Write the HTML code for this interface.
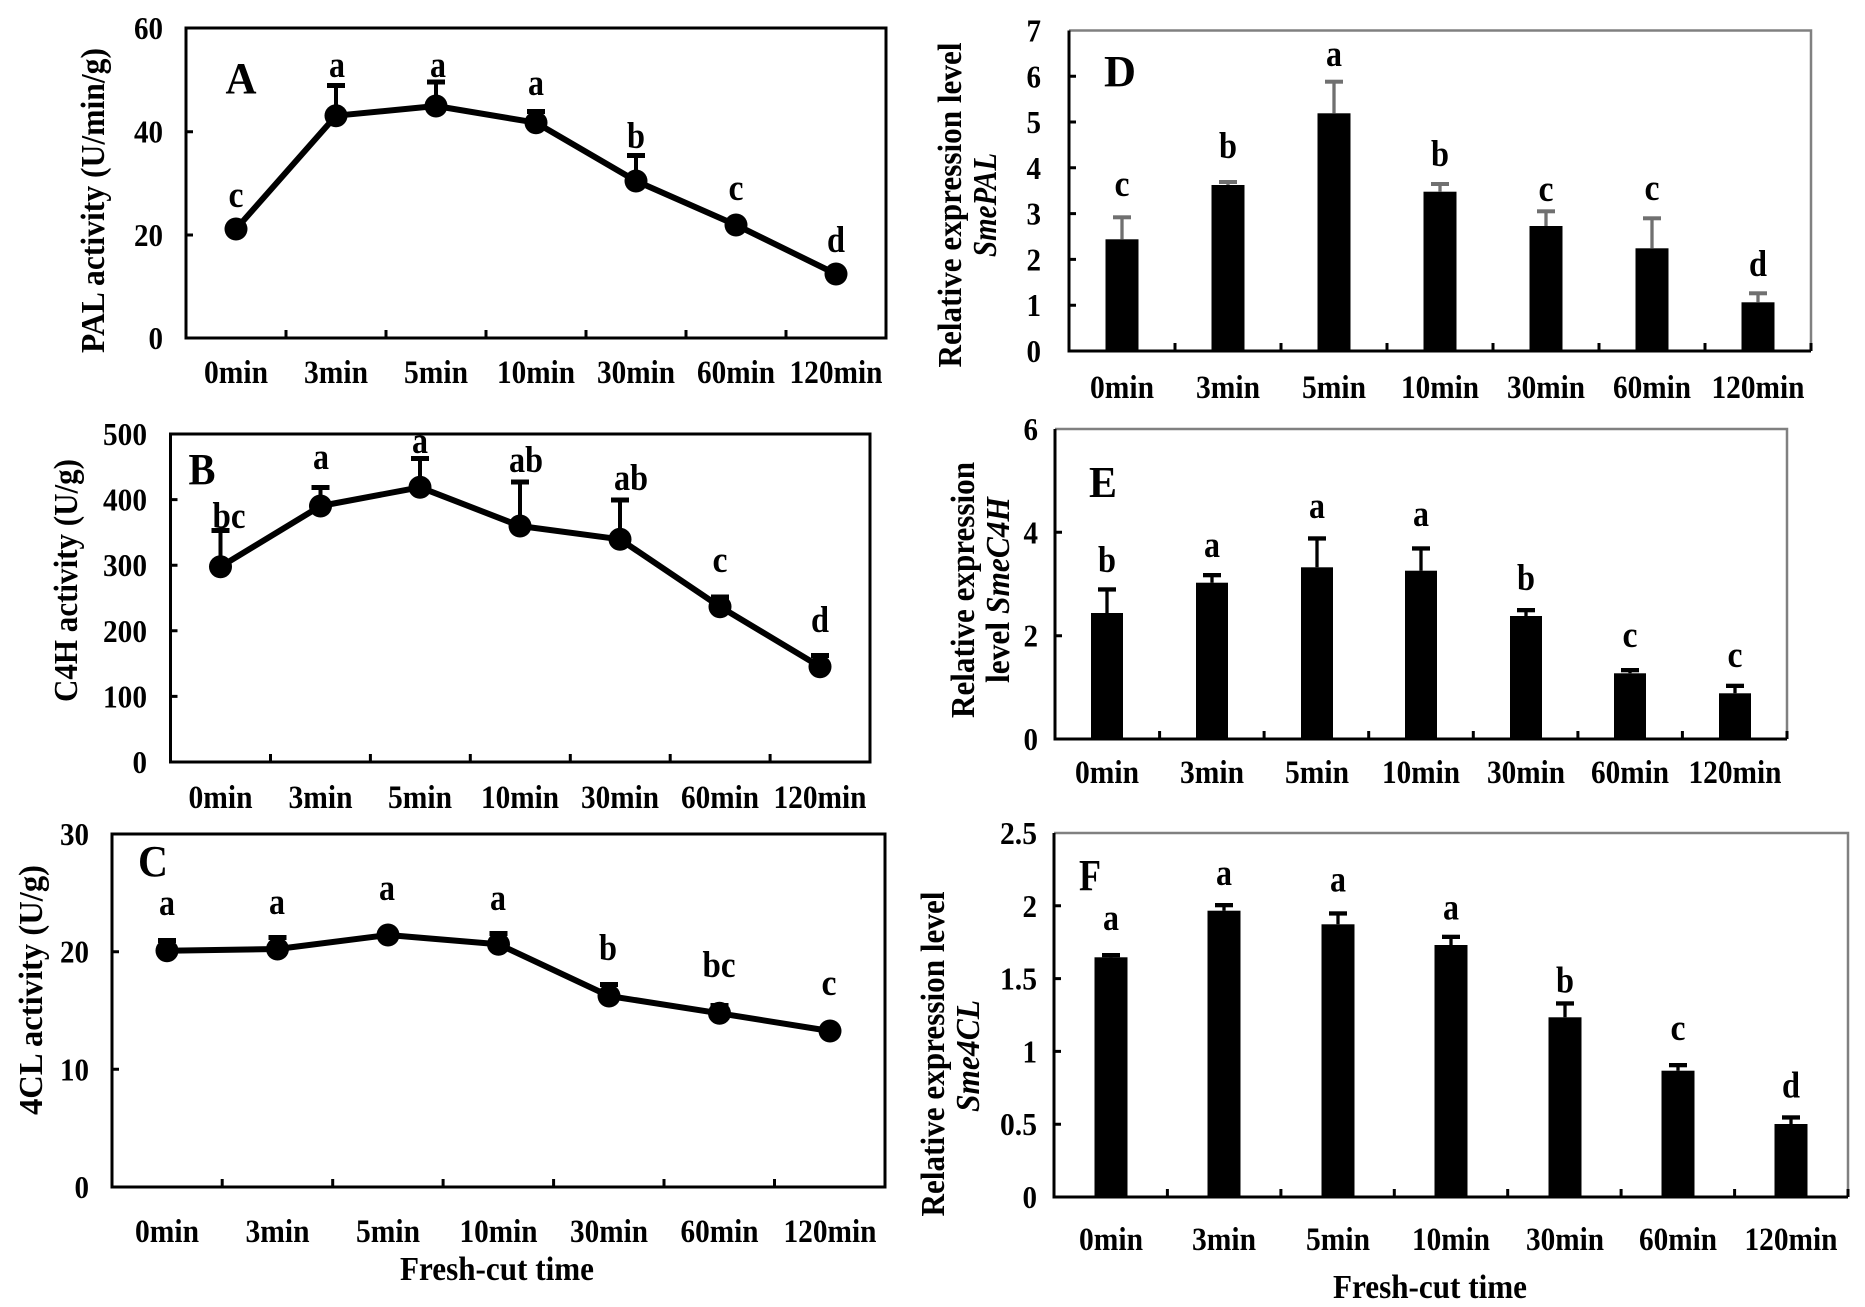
<!DOCTYPE html>
<html><head><meta charset="utf-8"><style>
html,body{margin:0;padding:0;background:#fff;}
svg{display:block;}
text{font-family:"Liberation Serif","Times New Roman",serif;font-weight:bold;fill:#000;}
.tk{font-size:32px;}
.xl{font-size:33px;}
.lt{font-size:37px;}
.pl{font-size:44px;}
.al{font-size:34px;}
</style></head><body>
<svg width="1865" height="1307" viewBox="0 0 1865 1307" xmlns="http://www.w3.org/2000/svg" lengthAdjust="spacingAndGlyphs">
<rect width="1865" height="1307" fill="#fff"/>

<!-- ===== Panel A ===== -->
<rect x="186" y="28" width="700" height="310" fill="none" stroke="#000" stroke-width="3"/>
<path d="M286 338V330M386 338V330M486 338V330M586 338V330M686 338V330M786 338V330M186 235H193M186 131.7H193" stroke="#000" stroke-width="3"/>
<g text-anchor="end"><text class="tk" x="163" y="349" textLength="14.5" lengthAdjust="spacingAndGlyphs">0</text><text class="tk" x="163" y="246" textLength="29" lengthAdjust="spacingAndGlyphs">20</text><text class="tk" x="163" y="142.7" textLength="29" lengthAdjust="spacingAndGlyphs">40</text><text class="tk" x="163" y="39" textLength="29" lengthAdjust="spacingAndGlyphs">60</text></g>
<g stroke="#000" stroke-width="4"><path d="M336 115.7V86M436 106V82.5M536 122.7V112M636 181V156"/></g>
<g fill="#000"><rect x="327" y="83" width="18" height="5"/><rect x="427" y="79.5" width="18" height="5"/><rect x="527" y="109" width="18" height="5"/><rect x="627" y="153" width="18" height="5"/></g>
<polyline points="236,229 336,115.7 436,106 536,122.7 636,181 736,225 836,274" fill="none" stroke="#000" stroke-width="6" stroke-linejoin="round"/>
<g fill="#000"><circle cx="236" cy="229" r="11.5"/><circle cx="336" cy="115.7" r="11.5"/><circle cx="436" cy="106" r="11.5"/><circle cx="536" cy="122.7" r="11.5"/><circle cx="636" cy="181" r="11.5"/><circle cx="736" cy="225" r="11.5"/><circle cx="836" cy="274" r="11.5"/></g>
<g text-anchor="middle"><text class="lt" x="236" y="207" textLength="15" lengthAdjust="spacingAndGlyphs">c</text><text class="lt" x="337" y="77" textLength="16" lengthAdjust="spacingAndGlyphs">a</text><text class="lt" x="438" y="77" textLength="16" lengthAdjust="spacingAndGlyphs">a</text><text class="lt" x="536" y="95" textLength="16" lengthAdjust="spacingAndGlyphs">a</text><text class="lt" x="636" y="148" textLength="18" lengthAdjust="spacingAndGlyphs">b</text><text class="lt" x="736" y="200" textLength="15" lengthAdjust="spacingAndGlyphs">c</text><text class="lt" x="836" y="252" textLength="18" lengthAdjust="spacingAndGlyphs">d</text></g>
<text class="pl" x="241" y="93" text-anchor="middle" textLength="31" lengthAdjust="spacingAndGlyphs">A</text>
<g text-anchor="middle"><text class="xl" x="236" y="383" textLength="64" lengthAdjust="spacingAndGlyphs">0min</text><text class="xl" x="336" y="383" textLength="64" lengthAdjust="spacingAndGlyphs">3min</text><text class="xl" x="436" y="383" textLength="64" lengthAdjust="spacingAndGlyphs">5min</text><text class="xl" x="536" y="383" textLength="78" lengthAdjust="spacingAndGlyphs">10min</text><text class="xl" x="636" y="383" textLength="78" lengthAdjust="spacingAndGlyphs">30min</text><text class="xl" x="736" y="383" textLength="78" lengthAdjust="spacingAndGlyphs">60min</text><text class="xl" x="836" y="383" textLength="93" lengthAdjust="spacingAndGlyphs">120min</text></g>
<text class="al" transform="translate(104,200.5) rotate(-90)" text-anchor="middle" textLength="305" lengthAdjust="spacingAndGlyphs">PAL activity (U/min/g)</text>

<!-- ===== Panel B ===== -->
<rect x="170.5" y="434" width="699.5" height="328" fill="none" stroke="#000" stroke-width="3"/>
<path d="M270.5 762V754M370.4 762V754M470.3 762V754M570.3 762V754M670.2 762V754M770.1 762V754M170.5 696.4H177.5M170.5 630.8H177.5M170.5 565.2H177.5M170.5 499.6H177.5" stroke="#000" stroke-width="3"/>
<g text-anchor="end"><text class="tk" x="147" y="773" textLength="14.5" lengthAdjust="spacingAndGlyphs">0</text><text class="tk" x="147" y="707.4" textLength="44" lengthAdjust="spacingAndGlyphs">100</text><text class="tk" x="147" y="641.8" textLength="44" lengthAdjust="spacingAndGlyphs">200</text><text class="tk" x="147" y="576.2" textLength="44" lengthAdjust="spacingAndGlyphs">300</text><text class="tk" x="147" y="510.6" textLength="44" lengthAdjust="spacingAndGlyphs">400</text><text class="tk" x="147" y="445" textLength="44" lengthAdjust="spacingAndGlyphs">500</text></g>
<g stroke="#000" stroke-width="4"><path d="M220.5 566.7V531M320.5 506V488M420 487.3V459M520 526V483M620 539.3V501M720 606.7V598M820 666.7V656"/></g>
<g fill="#000"><rect x="211.5" y="528" width="18" height="5"/><rect x="311.5" y="485" width="18" height="5"/><rect x="411" y="456" width="18" height="5"/><rect x="511" y="479.5" width="18" height="5"/><rect x="611" y="497.5" width="18" height="5"/><rect x="711" y="594.5" width="18" height="5"/><rect x="811" y="653" width="18" height="5"/></g>
<polyline points="220.5,566.7 320.5,506 420,487.3 520,526 620,539.3 720,606.7 820,666.7" fill="none" stroke="#000" stroke-width="6" stroke-linejoin="round"/>
<g fill="#000"><circle cx="220.5" cy="566.7" r="11.5"/><circle cx="320.5" cy="506" r="11.5"/><circle cx="420" cy="487.3" r="11.5"/><circle cx="520" cy="526" r="11.5"/><circle cx="620" cy="539.3" r="11.5"/><circle cx="720" cy="606.7" r="11.5"/><circle cx="820" cy="666.7" r="11.5"/></g>
<g text-anchor="middle"><text class="lt" x="229" y="528" textLength="33" lengthAdjust="spacingAndGlyphs">bc</text><text class="lt" x="321" y="469" textLength="16" lengthAdjust="spacingAndGlyphs">a</text><text class="lt" x="420" y="453" textLength="16" lengthAdjust="spacingAndGlyphs">a</text><text class="lt" x="526" y="472" textLength="34" lengthAdjust="spacingAndGlyphs">ab</text><text class="lt" x="631" y="490" textLength="34" lengthAdjust="spacingAndGlyphs">ab</text><text class="lt" x="720" y="572" textLength="15" lengthAdjust="spacingAndGlyphs">c</text><text class="lt" x="820" y="632" textLength="18" lengthAdjust="spacingAndGlyphs">d</text></g>
<text class="pl" x="202" y="484" text-anchor="middle" textLength="27" lengthAdjust="spacingAndGlyphs">B</text>
<g text-anchor="middle"><text class="xl" x="220.5" y="808" textLength="64" lengthAdjust="spacingAndGlyphs">0min</text><text class="xl" x="320.5" y="808" textLength="64" lengthAdjust="spacingAndGlyphs">3min</text><text class="xl" x="420" y="808" textLength="64" lengthAdjust="spacingAndGlyphs">5min</text><text class="xl" x="520" y="808" textLength="78" lengthAdjust="spacingAndGlyphs">10min</text><text class="xl" x="620" y="808" textLength="78" lengthAdjust="spacingAndGlyphs">30min</text><text class="xl" x="720" y="808" textLength="78" lengthAdjust="spacingAndGlyphs">60min</text><text class="xl" x="820" y="808" textLength="93" lengthAdjust="spacingAndGlyphs">120min</text></g>
<text class="al" transform="translate(77,580.5) rotate(-90)" text-anchor="middle" textLength="243" lengthAdjust="spacingAndGlyphs">C4H activity (U/g)</text>

<!-- ===== Panel C ===== -->
<rect x="112" y="834" width="773" height="353" fill="none" stroke="#000" stroke-width="3"/>
<path d="M222.2 1187V1179M332.7 1187V1179M443.1 1187V1179M553.6 1187V1179M664 1187V1179M774.5 1187V1179M112 1069.3H119M112 951.7H119" stroke="#000" stroke-width="3"/>
<g text-anchor="end"><text class="tk" x="89" y="1198" textLength="14.5" lengthAdjust="spacingAndGlyphs">0</text><text class="tk" x="89" y="1080.3" textLength="29" lengthAdjust="spacingAndGlyphs">10</text><text class="tk" x="89" y="962.7" textLength="29" lengthAdjust="spacingAndGlyphs">20</text><text class="tk" x="89" y="845" textLength="29" lengthAdjust="spacingAndGlyphs">30</text></g>
<g stroke="#000" stroke-width="4"><path d="M167 950.7V941M277.5 949V938M498.5 944.3V934M609 996V985M719.5 1013.3V1006"/></g>
<g fill="#000"><rect x="158" y="938" width="18" height="5"/><rect x="268.5" y="935" width="18" height="5"/><rect x="489.5" y="931" width="18" height="5"/><rect x="600" y="982" width="18" height="5"/><rect x="710.5" y="1003" width="18" height="5"/></g>
<polyline points="167,950.7 277.5,949 388,935 498.5,944.3 609,996 719.5,1013.3 830,1031" fill="none" stroke="#000" stroke-width="6" stroke-linejoin="round"/>
<g fill="#000"><circle cx="167" cy="950.7" r="11.5"/><circle cx="277.5" cy="949" r="11.5"/><circle cx="388" cy="935" r="11.5"/><circle cx="498.5" cy="944.3" r="11.5"/><circle cx="609" cy="996" r="11.5"/><circle cx="719.5" cy="1013.3" r="11.5"/><circle cx="830" cy="1031" r="11.5"/></g>
<g text-anchor="middle"><text class="lt" x="167" y="915" textLength="16" lengthAdjust="spacingAndGlyphs">a</text><text class="lt" x="277" y="914" textLength="16" lengthAdjust="spacingAndGlyphs">a</text><text class="lt" x="387" y="900" textLength="16" lengthAdjust="spacingAndGlyphs">a</text><text class="lt" x="498" y="910" textLength="16" lengthAdjust="spacingAndGlyphs">a</text><text class="lt" x="608" y="960" textLength="18" lengthAdjust="spacingAndGlyphs">b</text><text class="lt" x="719" y="977" textLength="33" lengthAdjust="spacingAndGlyphs">bc</text><text class="lt" x="829" y="995" textLength="15" lengthAdjust="spacingAndGlyphs">c</text></g>
<text class="pl" x="153" y="876" text-anchor="middle" textLength="30" lengthAdjust="spacingAndGlyphs">C</text>
<g text-anchor="middle"><text class="xl" x="167" y="1242" textLength="64" lengthAdjust="spacingAndGlyphs">0min</text><text class="xl" x="277.5" y="1242" textLength="64" lengthAdjust="spacingAndGlyphs">3min</text><text class="xl" x="388" y="1242" textLength="64" lengthAdjust="spacingAndGlyphs">5min</text><text class="xl" x="498.5" y="1242" textLength="78" lengthAdjust="spacingAndGlyphs">10min</text><text class="xl" x="609" y="1242" textLength="78" lengthAdjust="spacingAndGlyphs">30min</text><text class="xl" x="719.5" y="1242" textLength="78" lengthAdjust="spacingAndGlyphs">60min</text><text class="xl" x="830" y="1242" textLength="93" lengthAdjust="spacingAndGlyphs">120min</text></g>
<text class="al" x="497" y="1280" text-anchor="middle" textLength="194" lengthAdjust="spacingAndGlyphs">Fresh-cut time</text>
<text class="al" transform="translate(42,990) rotate(-90)" text-anchor="middle" textLength="250" lengthAdjust="spacingAndGlyphs">4CL activity (U/g)</text>

<!-- ===== Panel D ===== -->
<path d="M1069 30.5H1811V351" fill="none" stroke="#808080" stroke-width="2.5"/>
<path d="M1069 30.5V351H1811" fill="none" stroke="#000" stroke-width="3"/>
<path d="M1175 351V343M1281 351V343M1387 351V343M1493 351V343M1599 351V343M1705 351V343M1811 351V343M1069 305.2H1076M1069 259.4H1076M1069 213.6H1076M1069 167.8H1076M1069 122H1076M1069 76.3H1076" stroke="#000" stroke-width="3"/>
<g text-anchor="end"><text class="tk" x="1041" y="362" textLength="14.5" lengthAdjust="spacingAndGlyphs">0</text><text class="tk" x="1041" y="316.2" textLength="14.5" lengthAdjust="spacingAndGlyphs">1</text><text class="tk" x="1041" y="270.4" textLength="14.5" lengthAdjust="spacingAndGlyphs">2</text><text class="tk" x="1041" y="224.6" textLength="14.5" lengthAdjust="spacingAndGlyphs">3</text><text class="tk" x="1041" y="178.8" textLength="14.5" lengthAdjust="spacingAndGlyphs">4</text><text class="tk" x="1041" y="133" textLength="14.5" lengthAdjust="spacingAndGlyphs">5</text><text class="tk" x="1041" y="87.3" textLength="14.5" lengthAdjust="spacingAndGlyphs">6</text><text class="tk" x="1041" y="41.5" textLength="14.5" lengthAdjust="spacingAndGlyphs">7</text></g>
<g fill="#000"><rect x="1105.5" y="239.3" width="33" height="111.7"/><rect x="1211.5" y="185" width="33" height="166"/><rect x="1317.5" y="113.3" width="33" height="237.7"/><rect x="1423.5" y="191.7" width="33" height="159.3"/><rect x="1529.5" y="226" width="33" height="125"/><rect x="1635.5" y="248.3" width="33" height="102.7"/><rect x="1741.5" y="302.3" width="33" height="48.7"/></g>
<g stroke="#707070" stroke-width="3.3"><path d="M1122 239.3V218M1228 185V183M1334 113.3V83M1440 191.7V185M1546 226V212M1652 248.3V219M1758 302.3V294"/></g>
<g fill="#707070"><rect x="1113" y="215.3" width="18" height="4"/><rect x="1219" y="180" width="18" height="4"/><rect x="1325" y="79.7" width="18" height="4"/><rect x="1431" y="182" width="18" height="4"/><rect x="1537" y="209.3" width="18" height="4"/><rect x="1643" y="216.3" width="18" height="4"/><rect x="1749" y="291.3" width="18" height="4"/></g>
<g text-anchor="middle"><text class="lt" x="1122" y="196" textLength="15" lengthAdjust="spacingAndGlyphs">c</text><text class="lt" x="1228" y="158" textLength="18" lengthAdjust="spacingAndGlyphs">b</text><text class="lt" x="1334" y="66" textLength="16" lengthAdjust="spacingAndGlyphs">a</text><text class="lt" x="1440" y="166" textLength="18" lengthAdjust="spacingAndGlyphs">b</text><text class="lt" x="1546" y="201" textLength="15" lengthAdjust="spacingAndGlyphs">c</text><text class="lt" x="1652" y="200" textLength="15" lengthAdjust="spacingAndGlyphs">c</text><text class="lt" x="1758" y="276" textLength="18" lengthAdjust="spacingAndGlyphs">d</text></g>
<text class="pl" x="1120" y="86" text-anchor="middle" textLength="32" lengthAdjust="spacingAndGlyphs">D</text>
<g text-anchor="middle"><text class="xl" x="1122" y="398" textLength="64" lengthAdjust="spacingAndGlyphs">0min</text><text class="xl" x="1228" y="398" textLength="64" lengthAdjust="spacingAndGlyphs">3min</text><text class="xl" x="1334" y="398" textLength="64" lengthAdjust="spacingAndGlyphs">5min</text><text class="xl" x="1440" y="398" textLength="78" lengthAdjust="spacingAndGlyphs">10min</text><text class="xl" x="1546" y="398" textLength="78" lengthAdjust="spacingAndGlyphs">30min</text><text class="xl" x="1652" y="398" textLength="78" lengthAdjust="spacingAndGlyphs">60min</text><text class="xl" x="1758" y="398" textLength="93" lengthAdjust="spacingAndGlyphs">120min</text></g>
<text class="al" transform="translate(961,205) rotate(-90)" text-anchor="middle" textLength="325" lengthAdjust="spacingAndGlyphs">Relative expression level</text>
<text class="al" transform="translate(996,205) rotate(-90)" text-anchor="middle" font-style="italic" textLength="104" lengthAdjust="spacingAndGlyphs">SmePAL</text>

<!-- ===== Panel E ===== -->
<path d="M1055 429H1787V739" fill="none" stroke="#808080" stroke-width="2.5"/>
<path d="M1055 429V739H1787" fill="none" stroke="#000" stroke-width="3"/>
<path d="M1159.6 739V731M1264.1 739V731M1368.7 739V731M1473.3 739V731M1577.9 739V731M1682.4 739V731M1787 739V731M1055 635.7H1062M1055 532.3H1062" stroke="#000" stroke-width="3"/>
<g text-anchor="end"><text class="tk" x="1038" y="750" textLength="14.5" lengthAdjust="spacingAndGlyphs">0</text><text class="tk" x="1038" y="646.7" textLength="14.5" lengthAdjust="spacingAndGlyphs">2</text><text class="tk" x="1038" y="543.3" textLength="14.5" lengthAdjust="spacingAndGlyphs">4</text><text class="tk" x="1038" y="440" textLength="14.5" lengthAdjust="spacingAndGlyphs">6</text></g>
<g fill="#000"><rect x="1091" y="613" width="32" height="126"/><rect x="1196" y="582.7" width="32" height="156.3"/><rect x="1301" y="567.3" width="32" height="171.7"/><rect x="1405" y="570.7" width="32" height="168.3"/><rect x="1510" y="616" width="32" height="123"/><rect x="1614" y="673.3" width="32" height="65.7"/><rect x="1719" y="693.3" width="32" height="45.7"/></g>
<g stroke="#000" stroke-width="3.3"><path d="M1107 613V590M1212 582.7V576M1317 567.3V539M1421 570.7V549M1526 616V611M1630 673.3V671M1735 693.3V687"/></g>
<g fill="#000"><rect x="1098" y="587.3" width="18" height="4.3"/><rect x="1203" y="573" width="18" height="4.3"/><rect x="1308" y="536.3" width="18" height="4.3"/><rect x="1412" y="546.3" width="18" height="4.3"/><rect x="1517" y="608" width="18" height="4.3"/><rect x="1621" y="668" width="18" height="4.3"/><rect x="1726" y="683.7" width="18" height="4.3"/></g>
<g text-anchor="middle"><text class="lt" x="1107" y="572" textLength="18" lengthAdjust="spacingAndGlyphs">b</text><text class="lt" x="1212" y="557" textLength="16" lengthAdjust="spacingAndGlyphs">a</text><text class="lt" x="1317" y="518" textLength="16" lengthAdjust="spacingAndGlyphs">a</text><text class="lt" x="1421" y="526" textLength="16" lengthAdjust="spacingAndGlyphs">a</text><text class="lt" x="1526" y="590" textLength="18" lengthAdjust="spacingAndGlyphs">b</text><text class="lt" x="1630" y="647" textLength="15" lengthAdjust="spacingAndGlyphs">c</text><text class="lt" x="1735" y="667" textLength="15" lengthAdjust="spacingAndGlyphs">c</text></g>
<text class="pl" x="1103" y="497" text-anchor="middle" textLength="28" lengthAdjust="spacingAndGlyphs">E</text>
<g text-anchor="middle"><text class="xl" x="1107" y="783" textLength="64" lengthAdjust="spacingAndGlyphs">0min</text><text class="xl" x="1212" y="783" textLength="64" lengthAdjust="spacingAndGlyphs">3min</text><text class="xl" x="1317" y="783" textLength="64" lengthAdjust="spacingAndGlyphs">5min</text><text class="xl" x="1421" y="783" textLength="78" lengthAdjust="spacingAndGlyphs">10min</text><text class="xl" x="1526" y="783" textLength="78" lengthAdjust="spacingAndGlyphs">30min</text><text class="xl" x="1630" y="783" textLength="78" lengthAdjust="spacingAndGlyphs">60min</text><text class="xl" x="1735" y="783" textLength="93" lengthAdjust="spacingAndGlyphs">120min</text></g>
<text class="al" transform="translate(974,590) rotate(-90)" text-anchor="middle" textLength="256" lengthAdjust="spacingAndGlyphs">Relative expression</text>
<text class="al" transform="translate(1009,590) rotate(-90)" text-anchor="middle" textLength="186" lengthAdjust="spacingAndGlyphs">level <tspan font-style="italic">SmeC4H</tspan></text>

<!-- ===== Panel F ===== -->
<path d="M1054 833H1848V1197" fill="none" stroke="#808080" stroke-width="2.5"/>
<path d="M1054 833V1197H1848" fill="none" stroke="#000" stroke-width="3"/>
<path d="M1167.4 1197V1189M1280.9 1197V1189M1394.3 1197V1189M1507.7 1197V1189M1621.1 1197V1189M1734.6 1197V1189M1848 1197V1189M1054 1124.2H1061M1054 1051.4H1061M1054 978.6H1061M1054 905.8H1061" stroke="#000" stroke-width="3"/>
<g text-anchor="end"><text class="tk" x="1037" y="1208" textLength="14.5" lengthAdjust="spacingAndGlyphs">0</text><text class="tk" x="1037" y="1135.2" textLength="37" lengthAdjust="spacingAndGlyphs">0.5</text><text class="tk" x="1037" y="1062.4" textLength="14.5" lengthAdjust="spacingAndGlyphs">1</text><text class="tk" x="1037" y="989.6" textLength="37" lengthAdjust="spacingAndGlyphs">1.5</text><text class="tk" x="1037" y="916.8" textLength="14.5" lengthAdjust="spacingAndGlyphs">2</text><text class="tk" x="1037" y="844" textLength="37" lengthAdjust="spacingAndGlyphs">2.5</text></g>
<g fill="#000"><rect x="1094.5" y="957.3" width="33" height="239.7"/><rect x="1207.5" y="910.7" width="33" height="286.3"/><rect x="1321.5" y="924.3" width="33" height="272.7"/><rect x="1434.5" y="945" width="33" height="252"/><rect x="1548.5" y="1017.3" width="33" height="179.7"/><rect x="1661.5" y="1070.7" width="33" height="126.3"/><rect x="1774.5" y="1124" width="33" height="73"/></g>
<g stroke="#000" stroke-width="3.3"><path d="M1111 957.3V956M1224 910.7V906M1338 924.3V914M1451 945V938M1565 1017.3V1004M1678 1070.7V1066M1791 1124V1118"/></g>
<g fill="#000"><rect x="1102" y="953" width="18" height="4.3"/><rect x="1215" y="903" width="18" height="4.3"/><rect x="1329" y="911.3" width="18" height="4.3"/><rect x="1442" y="934.7" width="18" height="4.3"/><rect x="1556" y="1001.3" width="18" height="4.3"/><rect x="1669" y="1063" width="18" height="4.3"/><rect x="1782" y="1115.3" width="18" height="4.3"/></g>
<g text-anchor="middle"><text class="lt" x="1111" y="930" textLength="16" lengthAdjust="spacingAndGlyphs">a</text><text class="lt" x="1224" y="885" textLength="16" lengthAdjust="spacingAndGlyphs">a</text><text class="lt" x="1338" y="891.7" textLength="16" lengthAdjust="spacingAndGlyphs">a</text><text class="lt" x="1451" y="919.3" textLength="16" lengthAdjust="spacingAndGlyphs">a</text><text class="lt" x="1565" y="992.7" textLength="18" lengthAdjust="spacingAndGlyphs">b</text><text class="lt" x="1678" y="1040" textLength="15" lengthAdjust="spacingAndGlyphs">c</text><text class="lt" x="1791" y="1097.3" textLength="18" lengthAdjust="spacingAndGlyphs">d</text></g>
<text class="pl" x="1090" y="890" text-anchor="middle" textLength="22" lengthAdjust="spacingAndGlyphs">F</text>
<g text-anchor="middle"><text class="xl" x="1111" y="1250" textLength="64" lengthAdjust="spacingAndGlyphs">0min</text><text class="xl" x="1224" y="1250" textLength="64" lengthAdjust="spacingAndGlyphs">3min</text><text class="xl" x="1338" y="1250" textLength="64" lengthAdjust="spacingAndGlyphs">5min</text><text class="xl" x="1451" y="1250" textLength="78" lengthAdjust="spacingAndGlyphs">10min</text><text class="xl" x="1565" y="1250" textLength="78" lengthAdjust="spacingAndGlyphs">30min</text><text class="xl" x="1678" y="1250" textLength="78" lengthAdjust="spacingAndGlyphs">60min</text><text class="xl" x="1791" y="1250" textLength="93" lengthAdjust="spacingAndGlyphs">120min</text></g>
<text class="al" x="1430" y="1298" text-anchor="middle" textLength="194" lengthAdjust="spacingAndGlyphs">Fresh-cut time</text>
<text class="al" transform="translate(944,1054) rotate(-90)" text-anchor="middle" textLength="325" lengthAdjust="spacingAndGlyphs">Relative expression level</text>
<text class="al" transform="translate(979,1056) rotate(-90)" text-anchor="middle" font-style="italic" textLength="112" lengthAdjust="spacingAndGlyphs">Sme4CL</text>
</svg>
</body></html>
